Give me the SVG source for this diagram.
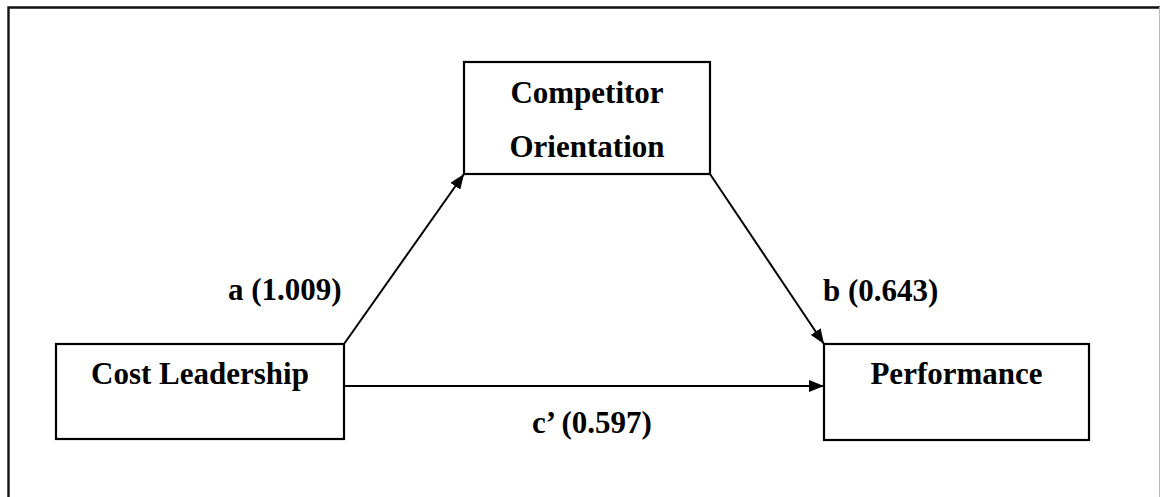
<svg xmlns="http://www.w3.org/2000/svg" width="1160" height="497" viewBox="0 0 1160 497">
  <style>
    .box { fill: #ffffff; stroke: #000000; stroke-width: 2.2; }
    .lbl { font-family: "Liberation Serif", "Times New Roman", serif; font-weight: bold; font-size: 31px; fill: #000000; }
    .mid { text-anchor: middle; }
    .edge { stroke: #000000; stroke-width: 2; fill: none; marker-end: url(#arrow); }
  </style>
  <defs>
    <marker id="arrow" viewBox="0 0 15 12" refX="15" refY="6" markerWidth="15" markerHeight="12" markerUnits="userSpaceOnUse" orient="auto">
      <path d="M0,0 L15,6 L0,12 Z" fill="#000000"/>
    </marker>
  </defs>

  <!-- frame -->
  <rect x="0" y="0" width="1160" height="497" fill="#ffffff"/>
  <path d="M8.5,520 V7.5 H1160" fill="none" stroke="#111111" stroke-width="2.4"/>
  <line x1="1159.5" y1="7" x2="1159.5" y2="497" stroke="#bbbbbb" stroke-width="1"/>

  <!-- connectors -->
  <g id="connectors">
    <line class="edge" x1="344" y1="344" x2="464" y2="174"/>
    <line class="edge" x1="710" y1="174" x2="824" y2="344"/>
    <line class="edge" x1="344" y1="386" x2="824" y2="386"/>
    <text class="lbl" x="228" y="300">a (1.009)</text>
    <text class="lbl" x="823" y="301">b (0.643)</text>
    <text class="lbl" x="532" y="433">c’ (0.597)</text>
  </g>

  <g id="node-competitor">
    <rect class="box" x="464" y="62" width="246" height="112"/>
    <text class="lbl mid" x="587" y="103">Competitor</text>
    <text class="lbl mid" x="587" y="157">Orientation</text>
  </g>

  <g id="node-cost">
    <rect class="box" x="56" y="344" width="288" height="95"/>
    <text class="lbl mid" x="200" y="384">Cost Leadership</text>
  </g>

  <g id="node-performance">
    <rect class="box" x="824" y="344" width="265" height="96"/>
    <text class="lbl mid" x="956.5" y="384">Performance</text>
  </g>
</svg>
